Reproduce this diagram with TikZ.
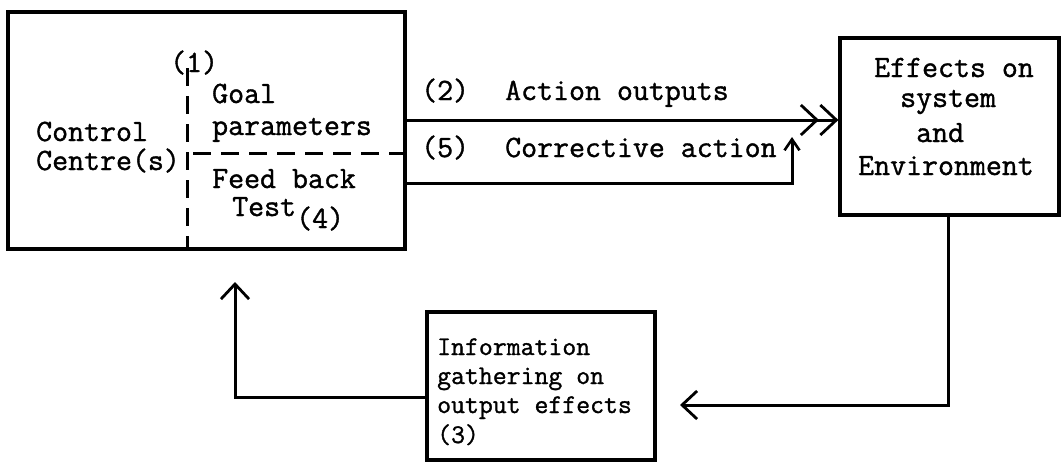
\documentclass[tikz,border=0pt]{standalone}
\usepackage{fontspec}
\setmonofont{Latin Modern Mono}[FakeBold=1.2]
\usetikzlibrary{arrows.meta,calc}
\begin{document}
\begin{tikzpicture}[x=1pt,y=-1pt,
  box/.style={draw,line width=3.2pt,inner sep=0pt},
  lbl/.style={font=\ttfamily\fontsize{31}{31}\selectfont,anchor=base west,inner sep=0pt},
  slbl/.style={font=\ttfamily\fontsize{27}{27}\selectfont,anchor=base west,inner sep=0pt},
  conn/.style={line width=3pt},
  barb/.style={-{Straight Barb[length=15pt,width=28pt,line width=2.8pt]}},
  sbarb/.style={-{Straight Barb[length=11pt,width=15pt,line width=2.6pt]}},
  dbarb/.style={-{Straight Barb[length=16pt,width=30pt,line width=2.8pt]Straight Barb[length=16pt,width=30pt,line width=2.8pt]}},
  dashline/.style={line width=3pt,dash pattern=on 18pt off 10pt}
]
\useasboundingbox (0,0) rectangle (1063,469);
% boxes
\node[box,minimum width=397pt,minimum height=237pt] (cc) at (206.5,130.5) {};
\node[box,minimum width=219pt,minimum height=177pt] (eff) at (949.5,126.5) {};
\node[box,minimum width=228pt,minimum height=148pt] (info) at (541,386) {};
% inner dashed divisions
\coordinate (dtop) at (187,68);
\coordinate (dbot) at (187,247);
\draw[dashline] (dtop) -- (dbot);
\coordinate (hl) at (193,153);
\draw[dashline] (hl) -- (hl -| cc.east);
% left box texts
\node[lbl] (n1) at (170,72) {(1)};
\node[lbl] (goal) at (212,103) {Goal};
\node[lbl] (param) at (212,135) {parameters};
\node[lbl] (ctrl) at (36,141) {Control};
\node[lbl] (centre) at (36,170) {Centre(s)};
\node[lbl] (feed) at (212,188) {Feed back};
\node[lbl] (test) at (232,216) {Test};
\node[lbl] (n4) at (296,228) {(4)};
% right box texts
\node[lbl] (e1) at (874,77) {Effects on};
\node[lbl] (e2) at (900,107) {system};
\node[lbl] (e3) at (916,142) {and};
\node[lbl] (e4) at (858,175) {Environment};
% bottom box texts
\node[slbl] (i1) at (437,355) {Information};
\node[slbl] (i2) at (437,384) {gathering on};
\node[slbl] (i3) at (437,413) {output effects};
\node[slbl] (i4) at (437,443) {(3)};
% connector labels
\node[lbl] (l2) at (421,100) {(2)};
\node[lbl] (l2t) at (505,100) {Action outputs};
\node[lbl] (l5) at (421,157) {(5)};
\node[lbl] (l5t) at (505,157) {Corrective action};
% connectors
\coordinate (a1) at (cc.east |- 0,120);
\draw[conn,dbarb] (a1) -- (a1 -| eff.west);
\coordinate (c1) at (cc.east |- 0,183);
\coordinate (c2) at (792,137);
\draw[conn,sbarb] (c1) -| (c2);
\coordinate (d1) at (eff.south -| 948,0);
\coordinate (d2) at (680,405);
\draw[conn,barb] (d1) |- (d2);
\coordinate (r1) at (info.west |- 0,397);
\coordinate (r2) at (235,282);
\draw[conn,barb] (r1) -| (r2);
\end{tikzpicture}
\end{document}
